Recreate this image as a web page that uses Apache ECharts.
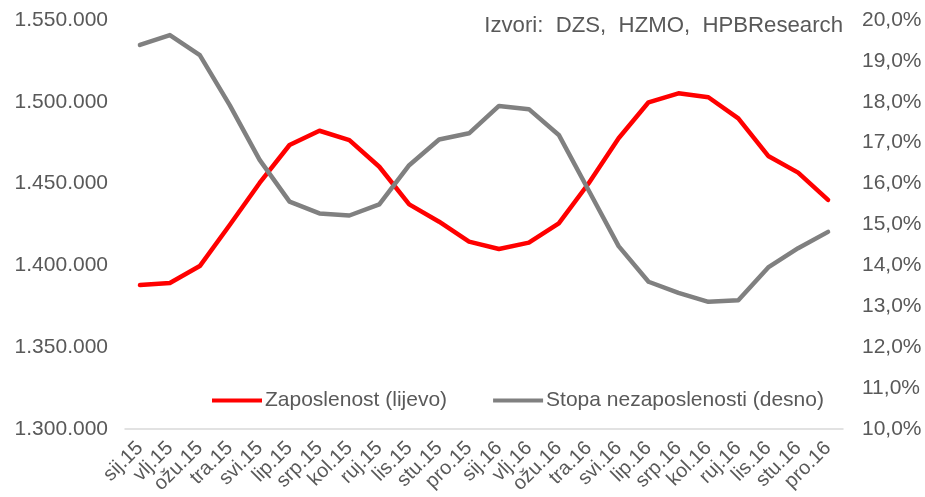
<!DOCTYPE html>
<html>
<head>
<meta charset="utf-8">
<script src="https://cdn.jsdelivr.net/npm/echarts@6/dist/echarts.min.js"></script>
<style>html,body{margin:0;padding:0;background:#fff}#c{width:925px;height:497px}</style>
</head>
<body>
<div id="c"></div>
<script>
const categories = ["sij.15","vlj.15","ožu.15","tra.15","svi.15","lip.15","srp.15","kol.15","ruj.15","lis.15","stu.15","pro.15",
  "sij.16","vlj.16","ožu.16","tra.16","svi.16","lip.16","srp.16","kol.16","ruj.16","lis.16","stu.16","pro.16"];
const zaposlenost = [1388000,1389200,1399600,1424700,1450400,1473600,1482300,1476600,1460300,1437300,1426700,1414500,
  1410000,1413900,1425700,1450200,1477700,1499700,1505200,1502800,1489900,1466900,1456700,1440000];
const stopa = [19.39,19.63,19.14,17.92,16.58,15.56,15.27,15.22,15.49,16.45,17.08,17.23,
  17.90,17.82,17.19,15.83,14.47,13.60,13.33,13.11,13.15,13.95,14.42,14.82];
const seriesNames = ["Zaposlenost (lijevo)","Stopa nezaposlenosti (desno)"];
const sourceText = "Izvori:  DZS,  HZMO,  HPBResearch";

const txt = '#595959';
const font = 'Liberation Sans, Arial, sans-serif';
const chart = echarts.init(document.getElementById('c'));
chart.setOption({
  animation: false,
  textStyle: {fontFamily: font},
  graphic: [{
    type: 'text', right: 82, top: 15,
    style: {text: sourceText, fill: txt, font: '22.2px ' + font, textAlign: 'right'}
  }],
  legend: {
    left: 207, top: 385,
    itemWidth: 50, itemHeight: 4, itemGap: 46,
    icon: 'rect',
    textStyle: {color: txt, fontSize: 21, fontFamily: font, padding: [0,0,0,-2]},
    data: seriesNames
  },
  grid: {left: 125, right: 82, top: 20, bottom: 68, containLabel: false},
  xAxis: {
    type: 'category', data: categories, boundaryGap: true,
    axisLine: {lineStyle: {color: '#d9d9d9', width: 1.5}},
    axisTick: {show: false},
    axisLabel: {rotate: 45, interval: 0, color: txt, fontSize: 20, fontFamily: font, margin: 16}
  },
  yAxis: [{
    type: 'value', min: 1300000, max: 1550000, interval: 50000,
    splitLine: {show: false}, axisLine: {show: false}, axisTick: {show: false},
    axisLabel: {color: txt, fontSize: 21, fontFamily: font, margin: 17,
      formatter: v => v.toString().replace(/\B(?=(\d{3})+(?!\d))/g, '.')}
  }, {
    type: 'value', min: 10, max: 20, interval: 1, position: 'right',
    splitLine: {show: false}, axisLine: {show: false}, axisTick: {show: false},
    axisLabel: {color: txt, fontSize: 21, fontFamily: font, margin: 19,
      formatter: v => v.toFixed(1).replace('.', ',') + '%'}
  }],
  series: [{
    name: seriesNames[0], type: 'line', yAxisIndex: 0, data: zaposlenost,
    symbol: 'none', lineStyle: {color: '#ff0000', width: 4.5, cap: 'round', join: 'round'},
    itemStyle: {color: '#ff0000'}
  }, {
    name: seriesNames[1], type: 'line', yAxisIndex: 1, data: stopa,
    symbol: 'none', lineStyle: {color: '#808080', width: 4.5, cap: 'round', join: 'round'},
    itemStyle: {color: '#808080'}
  }]
});
</script>
</body>
</html>
